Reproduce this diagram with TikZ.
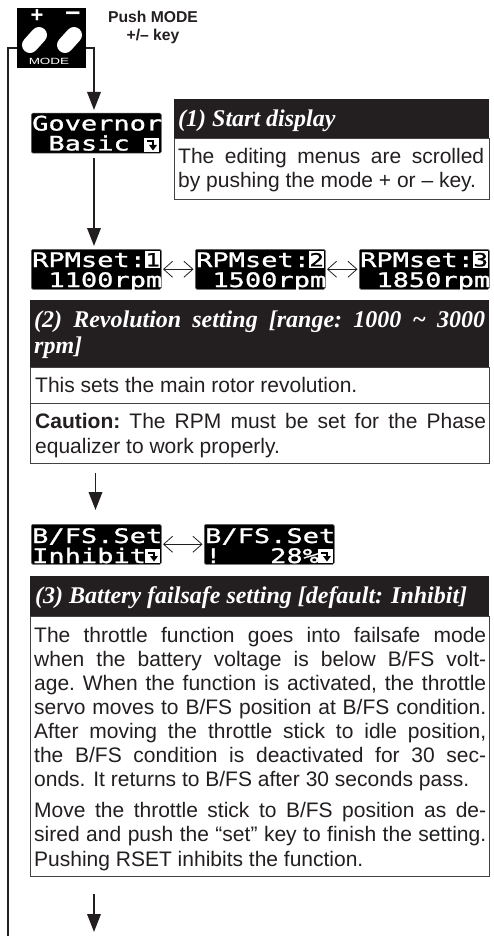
\documentclass[tikz,border=0pt]{standalone}
\usepackage{fontspec}
\usetikzlibrary{arrows.meta}
\setmainfont{Liberation Sans}
\newfontfamily\lcdf[FakeStretch=1.35,FakeBold=1.3]{DejaVu Sans Mono}
\newfontfamily\wsans[FakeStretch=1.5]{Liberation Sans}
\newfontfamily\ttl{Liberation Serif}
\definecolor{ink}{HTML}{231F20}
\newcommand\bodyf{\fontsize{21}{24}\selectfont}
\newcommand\titlef{\ttl\bfseries\itshape\fontsize{24}{26}\selectfont}
\newcommand\jl[2]{\hbox to #1pt{#2}}
\newcommand\nl[1]{\hbox{#1}}
\tikzset{
  wire/.style={draw=ink,line width=1.9pt},
  flow/.style={wire,-{Triangle[length=18pt,width=13.5pt]}},
  swap/.style={draw=ink,line width=0.8pt,shorten <=1.5pt,shorten >=1.5pt,{Straight Barb[length=9pt,width=16pt]}-{Straight Barb[length=9pt,width=16pt]}},
  lcdbox/.style={fill=black,draw=ink!70,line width=0.5pt,rounded corners=1.5pt,minimum width=130pt,minimum height=40pt,inner sep=0pt,anchor=north west},
  lcdrow/.style={text=white,inner sep=0pt,anchor=base west,font=\lcdf\fontsize{20}{20}\selectfont},
  cell/.style={fill=white,text=black,inner sep=0pt,minimum width=15pt,minimum height=17pt,anchor=north west,font=\lcdf\fontsize{18}{18}\selectfont},
  head/.style={fill=ink,inner sep=0pt,anchor=north west},
  panel/.style={fill=white,draw=ink!85,line width=0.9pt,inner sep=0pt,anchor=north west},
  body/.style={text=ink,inner sep=0pt,anchor=base west,font=\bodyf},
  htext/.style={text=white,inner sep=0pt,anchor=base west,font=\titlef},
  hint/.style={text=ink,inner sep=0pt,anchor=base,font=\bfseries\fontsize{15.7}{18}\selectfont},
}
\newcommand\lcd[6]{%
  \node[lcdbox] (#1) at (#2,#3) {};
  \node[lcdrow] (#1a) at (#2+1,#3+18+#6) {#4};
  \node[lcdrow] (#1b) at (#2+1,#3+38+#6) {#5};
}
\newcommand\icon[3]{%
  \begin{scope}[shift={(#2,#3)}]
    \node[fill=white,inner sep=0pt,minimum width=15pt,minimum height=14pt,anchor=north west] (#1) at (0,0) {};
    \draw[black,line width=2pt] (3,3.5) -- (9,3.5) -- (9,7);
    \fill[black] (5,7) -- (13,7) -- (9,12.5) -- cycle;
  \end{scope}
}
\begin{document}
\begin{tikzpicture}[x=1pt,y=-1pt]
\useasboundingbox (0,0) rectangle (493,936);
\fill[white] (0,0) rectangle (493,936);

% mode key
\node[fill=black,inner sep=0pt,minimum width=69pt,minimum height=60pt,anchor=north west] (mode) at (17,8) {};
\node[text=white,inner sep=0pt,font=\bfseries\fontsize{22}{22}\selectfont] (plus) at (37,16) {+};
\node[text=white,inner sep=0pt,font=\bfseries\fontsize{27}{27}\selectfont] (minus) at (73,16) {–};
\draw[white,line width=16pt,line cap=round] (30,45) -- (39,35);
\draw[white,line width=16pt,line cap=round] (65,45) -- (74,35);
\node[text=white,inner sep=0pt,anchor=base,font=\wsans\fontsize{9}{9}\selectfont] (modet) at (49,65) {MODE};
\node[hint] (h1) at (153,23) {Push MODE};
\node[hint] (h2) at (153,41) {+/– key};

% connectors from the key
\coordinate (ml) at (17,48);
\coordinate (lc) at (8,48);
\coordinate (le) at (8,936);
\draw[wire] (ml) -- (lc) -- (le);
\coordinate (mr) at (86,48);
\coordinate (rc) at (94,48);
\coordinate (gt) at (94,110);
\draw[flow] (mr) -- (rc) -- (gt);

% start display
\lcd{gov}{31}{113}{Governor}{~Basic}{-0.5}
\icon{govi}{144}{138}
\coordinate (g1) at (94,158);
\coordinate (g2) at (94,246);
\draw[flow] (g1) -- (g2);

\node[panel,minimum width=315pt,minimum height=61pt] (p1) at (174,138) {};
\node[head,minimum width=315pt,minimum height=39pt] (h1b) at (174,99) {};
\node[htext] (t1) at (178,127) {(1) Start display};
\node[body] (b1) at (178,164) {\vtop{\hsize=306pt\baselineskip=24pt
  \jl{306}{The\hfil editing\hfil menus\hfil are\hfil scrolled}
  \nl{by pushing the mode + or – key.}}};

% RPM row
\lcd{r1}{31}{249}{RPMset:}{~1100rpm}{0}
\node[cell] (r1c) at (145,251) {1};
\lcd{r2}{195}{249}{RPMset:}{~1500rpm}{0}
\node[cell] (r2c) at (309,251) {2};
\lcd{r3}{359}{249}{RPMset:}{~1850rpm}{0}
\node[cell] (r3c) at (473,251) {3};
\draw[swap] (r1.east) -- (r2.west);
\draw[swap] (r2.east) -- (r3.west);

% panel 2
\node[panel,minimum width=459pt,minimum height=96pt] (p2) at (30,367) {};
\node[head,minimum width=459pt,minimum height=67pt] (h2b) at (30,300) {};
\node[htext] (t2) at (34,327) {\vtop{\hsize=451pt\baselineskip=26pt
  \jl{451}{(2)\hfil Revolution\hfil setting\hfil [range:\hfil 1000\hfil \char`~\hfil 3000}
  \nl{rpm]}}};
\coordinate (d1) at (30,403);
\coordinate (d2) at (489,403);
\draw[draw=ink!85,line width=0.9pt] (d1) -- (d2);
\node[body] (b2) at (35,392) {This sets the main rotor revolution.};
\node[body] (b3) at (35,428) {\vtop{\hsize=451pt\baselineskip=25pt
  \jl{451}{\textbf{Caution:}\hfil The\hfil RPM\hfil must\hfil be\hfil set\hfil for\hfil the\hfil Phase}
  \nl{equalizer to work properly.}}};

\coordinate (a1) at (95.5,473);
\coordinate (a2) at (95.5,510);
\draw[flow] (a1) -- (a2);

% B/FS row
\lcd{f1}{31}{524}{B/FS.Set}{Inhibit}{1}
\icon{f1i}{145}{549}
\lcd{f2}{204}{524}{B/FS.Set}{!~~~28\%}{1}
\icon{f2i}{318}{549}
\draw[swap] (f1.east) -- (f2.west);

% panel 3
\node[panel,minimum width=459pt,minimum height=260pt] (p3) at (30,616) {};
\node[head,minimum width=459pt,minimum height=40pt] (h3b) at (30,576) {};
\node[htext] (t3) at (35,603) {(3) Battery failsafe setting [default: Inhibit]};
\node[body] (b4) at (34,642) {\vtop{\hsize=452pt\baselineskip=24pt
  \jl{452}{The\hfil throttle\hfil function\hfil goes\hfil into\hfil failsafe\hfil mode}
  \jl{452}{when\hfil the\hfil battery\hfil voltage\hfil is\hfil below\hfil B/FS\hfil volt-}
  \jl{452}{age.\hfil When\hfil the\hfil function\hfil is\hfil activated,\hfil the\hfil throttle}
  \jl{452}{servo\hfil moves\hfil to\hfil B/FS\hfil position\hfil at\hfil B/FS\hfil condition.}
  \jl{452}{After\hfil moving\hfil the\hfil throttle\hfil stick\hfil to\hfil idle\hfil position,}
  \jl{452}{the\hfil B/FS\hfil condition\hfil is\hfil deactivated\hfil for\hfil 30\hfil sec-}
  \nl{onds. It returns to B/FS after 30 seconds pass.}}};
\node[body] (b5) at (34,817) {\vtop{\hsize=452pt\baselineskip=24.5pt
  \jl{452}{Move\hfil the\hfil throttle\hfil stick\hfil to\hfil B/FS\hfil position\hfil as\hfil de-}
  \jl{452}{sired\hfil and\hfil push\hfil the\hfil “set”\hfil key\hfil to\hfil finish\hfil the\hfil setting.}
  \nl{Pushing RSET inhibits the function.}}};

\coordinate (z1) at (94,894);
\coordinate (z2) at (94,932);
\draw[flow] (z1) -- (z2);
\end{tikzpicture}
\end{document}
